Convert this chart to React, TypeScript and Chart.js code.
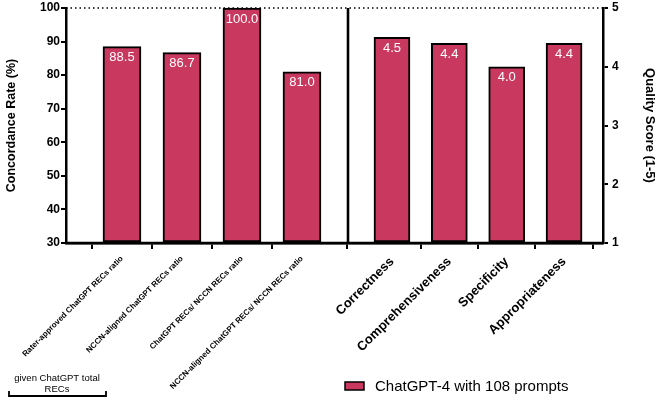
import React, { useEffect, useRef } from "react";
import { Chart, registerables } from "chart.js";

Chart.register(...registerables);

// ---- Data ----
const concordanceLabels = [
  "Rater-approved ChatGPT RECs ratio",
  "NCCN-aligned ChatGPT RECs ratio",
  "ChatGPT RECs/ NCCN RECs ratio",
  "NCCN-aligned ChatGPT RECs/ NCCN RECs ratio",
];
const concordanceValues = [88.5, 86.7, 100.0, 81.0];

const qualityLabels = ["Correctness", "Comprehensiveness", "Specificity", "Appropriateness"];
const qualityValues = [4.5, 4.4, 4.0, 4.4];

const leftTicks = [30, 40, 50, 60, 70, 80, 90, 100];
const rightTicks = [1, 2, 3, 4, 5];

const seriesName = "ChatGPT-4 with 108 prompts";
const bracketNote = ["given ChatGPT total", "RECs"];

// ---- Layout (x positions in slot units) ----
const X_MAX = 8.95;
const LEFT_START = 0.933;
const LEFT_STEP = 1;
const RIGHT_START = 5.433;
const RIGHT_STEP = 0.956;
const DIVIDER = 4.7;
const leftPos = concordanceLabels.map((_, i) => LEFT_START + i * LEFT_STEP);
const rightPos = qualityLabels.map((_, i) => RIGHT_START + i * RIGHT_STEP);
const allPos = [...leftPos, ...rightPos];
const allLabels = [...concordanceLabels, ...qualityLabels];

const FONT = "'Liberation Sans', Arial, Helvetica, sans-serif";
const BAR = "#C8385F";

const overlay = {
  id: "overlay",
  beforeDatasetsDraw(chart: any) {
    const { ctx, chartArea } = chart;
    ctx.save();
    ctx.strokeStyle = "#000";
    ctx.lineWidth = 1.5;
    ctx.setLineDash([1.5, 3]);
    ctx.beginPath();
    ctx.moveTo(chartArea.left, chartArea.top);
    ctx.lineTo(chartArea.right, chartArea.top);
    ctx.stroke();
    ctx.restore();
  },
  afterDatasetsDraw(chart: any) {
    const { ctx, chartArea, scales } = chart;
    ctx.save();
    // divider
    const dx = scales.x.getPixelForValue(DIVIDER);
    ctx.strokeStyle = "#000";
    ctx.lineWidth = 2.6;
    ctx.beginPath();
    ctx.moveTo(dx, chartArea.top);
    ctx.lineTo(dx, chartArea.bottom);
    ctx.stroke();
    // x axis line on top of bars
    ctx.lineWidth = 2.5;
    ctx.beginPath();
    ctx.moveTo(chartArea.left, chartArea.bottom);
    ctx.lineTo(chartArea.right, chartArea.bottom);
    ctx.stroke();
    // value labels
    ctx.fillStyle = "#fff";
    ctx.font = `13px ${FONT}`;
    ctx.textAlign = "center";
    ctx.textBaseline = "middle";
    chart.data.datasets.forEach((ds: any, di: number) => {
      const meta = chart.getDatasetMeta(di);
      meta.data.forEach((el: any, i: number) => {
        ctx.fillText(ds.data[i].y.toFixed(1), el.x, el.y + 11);
      });
    });
    ctx.restore();
  },
  afterDraw(chart: any) {
    const { ctx } = chart;
    ctx.save();
    // legend
    ctx.fillStyle = BAR;
    ctx.strokeStyle = "#000";
    ctx.lineWidth = 1.5;
    ctx.fillRect(345, 382, 19, 8);
    ctx.strokeRect(345, 382, 19, 8);
    ctx.fillStyle = "#000";
    ctx.font = `15px ${FONT}`;
    ctx.textAlign = "left";
    ctx.textBaseline = "middle";
    ctx.fillText(seriesName, 375, 387);
    // bracket note
    ctx.font = `9.5px ${FONT}`;
    ctx.textAlign = "center";
    ctx.fillText(bracketNote[0], 57, 378);
    ctx.fillText(bracketNote[1], 57, 389);
    ctx.lineWidth = 1.8;
    ctx.beginPath();
    ctx.moveTo(9, 391);
    ctx.lineTo(9, 396);
    ctx.lineTo(106, 396);
    ctx.lineTo(106, 391);
    ctx.stroke();
    ctx.restore();
  },
};

export default function App() {
  const ref = useRef<HTMLCanvasElement>(null);
  useEffect(() => {
    if (!ref.current) return;
    const chart = new Chart(ref.current, {
      type: "bar",
      data: {
        datasets: [
          {
            label: seriesName,
            data: concordanceValues.map((v, i) => ({ x: leftPos[i], y: v })),
            yAxisID: "y",
            base: leftTicks[0],
            backgroundColor: BAR,
            borderColor: "#000",
            borderWidth: 2,
            borderSkipped: false,
            barThickness: 38,
            grouped: false,
            clip: 4,
          } as any,
          {
            label: seriesName,
            data: qualityValues.map((v, i) => ({ x: rightPos[i], y: v })),
            yAxisID: "y2",
            base: rightTicks[0],
            backgroundColor: BAR,
            borderColor: "#000",
            borderWidth: 2,
            borderSkipped: false,
            barThickness: 36,
            grouped: false,
            clip: 4,
          } as any,
        ],
      },
      options: {
        responsive: false,
        animation: false,
        devicePixelRatio: 1,
        events: [],
        layout: { padding: { top: 8, left: 0, right: 0, bottom: 0 } },
        plugins: { legend: { display: false }, tooltip: { enabled: false } },
        scales: {
          x: {
            type: "linear",
            min: 0,
            max: X_MAX,
            offset: false,
            afterBuildTicks: (axis: any) => {
              axis.ticks = allPos.map((v) => ({ value: v }));
            },
            afterFit: (s: any) => {
              s.height = 160;
              s.paddingLeft = 0;
              s.paddingRight = 0;
            },
            ticks: {
              autoSkip: false,
              minRotation: 45,
              maxRotation: 45,
              padding: 5,
              color: "#000",
              callback: (_v: any, i: number) => allLabels[i],
              font: (ctx: any) =>
                ctx.index < 4
                  ? { family: FONT, size: 8, weight: "bold" }
                  : { family: FONT, size: 13, weight: "bold" },
            },
            grid: { drawOnChartArea: false, drawTicks: true, tickLength: 6, color: "#000", lineWidth: 2 },
            border: { display: true, color: "#000", width: 2.5 },
          },
          y: {
            type: "linear",
            position: "left",
            min: 30,
            max: 100,
            afterBuildTicks: (axis: any) => {
              axis.ticks = leftTicks.map((v) => ({ value: v }));
            },
            afterFit: (s: any) => {
              s.width = 66;
              s.paddingTop = 0;
              s.paddingBottom = 0;
            },
            ticks: { color: "#000", padding: 1, font: { family: FONT, size: 12, weight: "bold" } },
            grid: { drawOnChartArea: false, drawTicks: true, tickLength: 5, color: "#000", lineWidth: 2 },
            border: { display: true, color: "#000", width: 2.5 },
            title: {
              display: true,
              text: "Concordance Rate (%)",
              color: "#000",
              font: { family: FONT, size: 12.5, weight: "bold" },
            },
          },
          y2: {
            type: "linear",
            position: "right",
            min: 1,
            max: 5,
            afterBuildTicks: (axis: any) => {
              axis.ticks = rightTicks.map((v) => ({ value: v }));
            },
            afterFit: (s: any) => {
              s.width = 58;
              s.paddingTop = 0;
              s.paddingBottom = 0;
            },
            ticks: { color: "#000", padding: 4, font: { family: FONT, size: 12, weight: "bold" } },
            grid: { drawOnChartArea: false, drawTicks: true, tickLength: 5, color: "#000", lineWidth: 2 },
            border: { display: true, color: "#000", width: 2.5 },
            title: {
              display: true,
              text: "Quality Score (1-5)",
              color: "#000",
              font: { family: FONT, size: 13, weight: "bold" },
            },
          },
        },
      } as any,
      plugins: [overlay],
    });
    return () => chart.destroy();
  }, []);
  return (
    <div style={{ position: "absolute", left: 0, top: 0, width: 661, height: 403 }}>
      <canvas ref={ref} width={661} height={403} style={{ display: "block" }} />
    </div>
  );
}
